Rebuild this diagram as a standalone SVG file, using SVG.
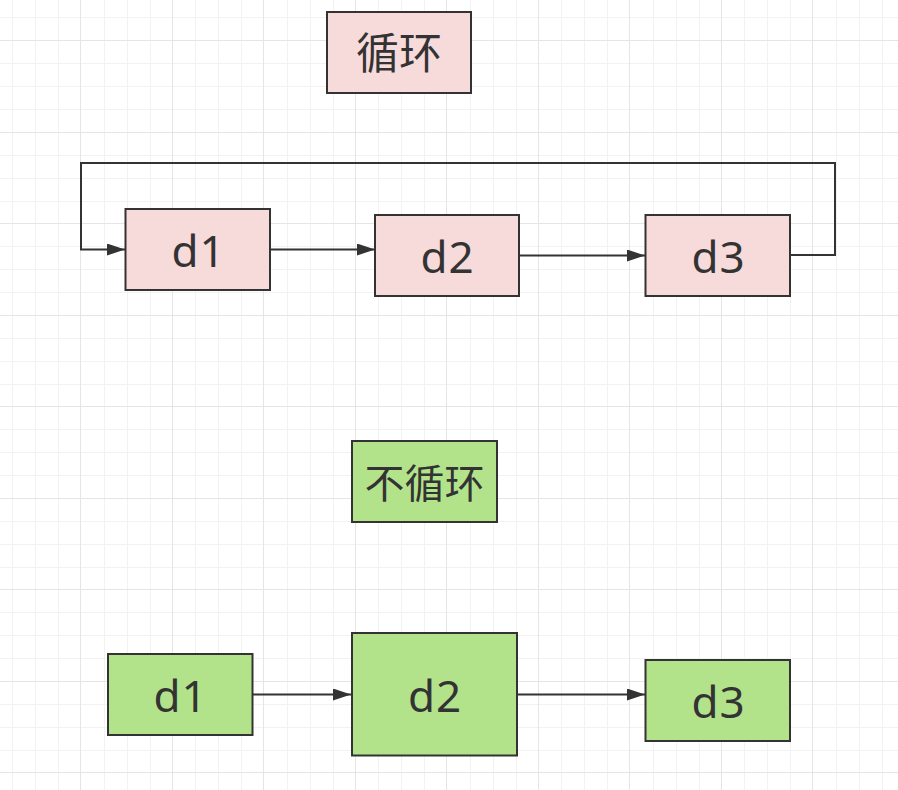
<svg xmlns="http://www.w3.org/2000/svg" width="898" height="790" viewBox="0 0 898 790">
<defs>
<style>
.minor{stroke:#f2f2f2;stroke-width:1;fill:none}
.major{stroke:#e5e5e5;stroke-width:1;fill:none}
.box{stroke:#333333;stroke-width:2}
.pink{fill:#f7dbdb}
.green{fill:#b2e38b}
.lbl{font-family:"Noto Sans","Open Sans","Liberation Sans",sans-serif;font-size:44px;letter-spacing:1px;fill:#333333;text-anchor:middle}
.cjk{font-family:"Noto Sans CJK SC","Noto Sans",sans-serif;fill:#333333;text-anchor:middle}
.edge{stroke:#333333;stroke-width:2;fill:none;marker-end:url(#arr)}
</style>
<marker id="arr" markerUnits="userSpaceOnUse" markerWidth="19" markerHeight="13" refX="18" refY="6" orient="auto">
<path d="M0,0 L18,6 L0,12 z" fill="#333333"/>
</marker>
</defs>
<rect width="898" height="790" fill="#ffffff"/>
<g id="grid">
<path class="minor" d="M12.5 0V790M35.5 0V790M58.5 0V790M104.5 0V790M127.5 0V790M150.5 0V790M195.5 0V790M218.5 0V790M241.5 0V790M287.5 0V790M310.5 0V790M333.5 0V790M378.5 0V790M401.5 0V790M424.5 0V790M470.5 0V790M493.5 0V790M516.5 0V790M561.5 0V790M584.5 0V790M607.5 0V790M653.5 0V790M676.5 0V790M699.5 0V790M744.5 0V790M767.5 0V790M790.5 0V790M836.5 0V790M859.5 0V790M882.5 0V790"/>
<path class="minor" d="M0 17.5H898M0 63.5H898M0 86.5H898M0 109.5H898M0 155.5H898M0 178.5H898M0 201.5H898M0 246.5H898M0 269.5H898M0 292.5H898M0 338.5H898M0 361.5H898M0 384.5H898M0 429.5H898M0 452.5H898M0 475.5H898M0 521.5H898M0 544.5H898M0 567.5H898M0 612.5H898M0 635.5H898M0 658.5H898M0 704.5H898M0 727.5H898M0 750.5H898"/>
<path class="major" d="M80.5 0V790M172.5 0V790M263.5 0V790M355.5 0V790M446.5 0V790M538.5 0V790M629.5 0V790M721.5 0V790M812.5 0V790"/>
<path class="major" d="M0 40.5H898M0 132.5H898M0 223.5H898M0 315.5H898M0 406.5H898M0 498.5H898M0 589.5H898M0 681.5H898M0 772.5H898"/>
</g>
<g id="connectors">
<path class="edge" d="M790 255H835V163H81V249.5H125"/>
<path class="edge" d="M270 249.5H375"/>
<path class="edge" d="M519 255.5H645"/>
<path class="edge" d="M252 694.5H351"/>
<path class="edge" d="M517 694.5H645"/>
</g>
<g id="title-loop">
<rect class="box pink" x="327" y="12" width="144" height="81"/>
<text class="cjk" x="399" y="69" font-size="43">循环</text>
</g>
<g id="loop-d1">
<rect class="box pink" x="125.5" y="209" width="144.5" height="81"/>
<text class="lbl" x="198.5" y="267">d1</text>
</g>
<g id="loop-d2">
<rect class="box pink" x="375" y="215" width="144" height="81"/>
<text class="lbl" x="447.5" y="272.5">d2</text>
</g>
<g id="loop-d3">
<rect class="box pink" x="645.5" y="215" width="144.5" height="81"/>
<text class="lbl" x="718.5" y="272.5">d3</text>
</g>
<g id="title-noloop">
<rect class="box green" x="352" y="441" width="145" height="81"/>
<text class="cjk" x="424.5" y="498" font-size="40">不循环</text>
</g>
<g id="noloop-d1">
<rect class="box green" x="108" y="654" width="144.5" height="81"/>
<text class="lbl" x="180.5" y="711.5">d1</text>
</g>
<g id="noloop-d2">
<rect class="box green" x="352" y="633" width="165" height="122.5"/>
<text class="lbl" x="435" y="711.5">d2</text>
</g>
<g id="noloop-d3">
<rect class="box green" x="645.5" y="660" width="144.5" height="81"/>
<text class="lbl" x="718.5" y="718">d3</text>
</g>
</svg>
